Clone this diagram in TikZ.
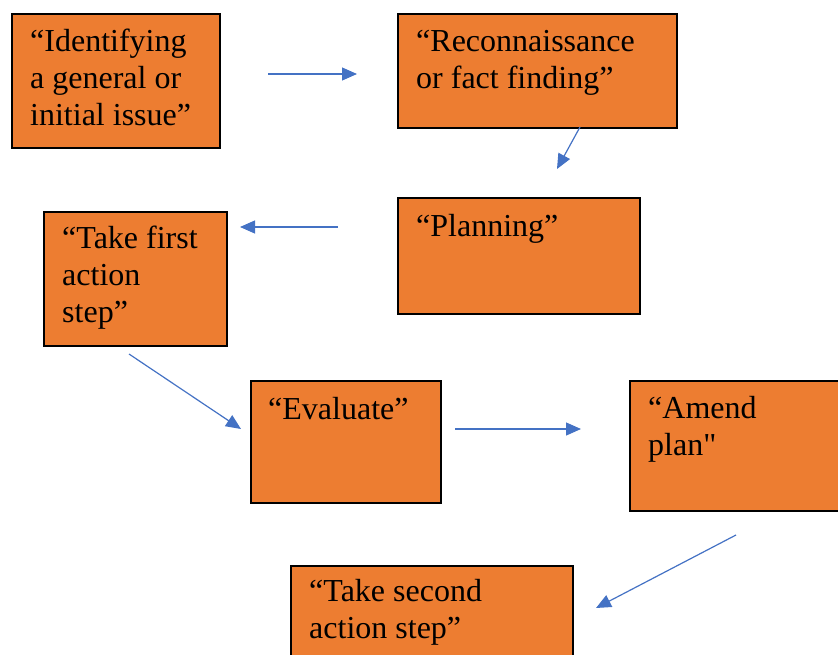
\documentclass[tikz,border=0pt]{standalone}
\usepackage{fontspec}
\setmainfont{Liberation Serif}[Ligatures=TeXOff]
\usetikzlibrary{arrows.meta}
\definecolor{boxOrange}{HTML}{ED7D31}
\definecolor{arrowBlue}{HTML}{4472C4}

\begin{document}
\begin{tikzpicture}[x=1pt, y=-1pt]
        \tikzstyle{stepBox} = [rectangle,draw=black,fill=boxOrange,
                line width=2pt, anchor=north west, inner sep=0pt]
        % text is placed by the baseline of its last line
        \tikzstyle{stepText} = [anchor=base west, align=left, inner sep=0pt,
                font=\fontsize{32}{37}\selectfont]
        \tikzstyle{blueArrow} = [draw=arrowBlue, line width=1.2pt,
                -{Triangle[length=15pt,width=13pt]}]
        \clip (0,0) rectangle (838,654);
        \node[stepBox, minimum width=208pt, minimum height=134pt] (issue) at (11,13) {};
        \node[stepBox, minimum width=279pt, minimum height=114pt] (recon) at (397,13) {};
        \node[stepBox, minimum width=242pt, minimum height=116pt] (plan) at (397,197) {};
        \node[stepBox, minimum width=183pt, minimum height=134pt] (first) at (43,211) {};
        \node[stepBox, minimum width=190pt, minimum height=122pt] (eval) at (250,380) {};
        \node[stepBox, minimum width=240pt, minimum height=130pt] (amend) at (629,380) {};
        \node[stepBox, minimum width=282pt, minimum height=120pt] (second) at (290,565) {};
        \node[stepText] (issueText) at ([shift={(19pt,-112pt)}]issue.north west)
                {“Identifying\\a general or\\initial issue”};
        \node[stepText] (reconText) at ([shift={(19pt,-75pt)}]recon.north west)
                {“Reconnaissance\\or fact finding”};
        \node[stepText] (planText) at ([shift={(19pt,-39pt)}]plan.north west)
                {“Planning”};
        \node[stepText] (firstText) at ([shift={(19pt,-111pt)}]first.north west)
                {“Take first\\action\\step”};
        \node[stepText] (evalText) at ([shift={(18pt,-39pt)}]eval.north west)
                {“Evaluate”};
        \node[stepText] (amendText) at ([shift={(19pt,-75pt)}]amend.north west)
                {“Amend\\plan"};
        \node[stepText] (secondText) at ([shift={(19pt,-73pt)}]second.north west)
                {“Take second\\action step”};
        \coordinate (fromIssue) at (268,74);
        \coordinate (toRecon) at (357,74);
        \coordinate (fromRecon) at (580,127);
        \coordinate (toPlan) at (557,169);
        \coordinate (fromPlan) at (338,227);
        \coordinate (toFirst) at (240,227);
        \coordinate (fromFirst) at (129,354);
        \coordinate (toEval) at (241,429);
        \coordinate (fromEval) at (455,429);
        \coordinate (toAmend) at (581,429);
        \coordinate (fromAmend) at (736,535);
        \coordinate (toSecond) at (596,608);
        \foreach \from/\to in {fromIssue/toRecon, fromRecon/toPlan, fromPlan/toFirst,
                                fromFirst/toEval, fromEval/toAmend, fromAmend/toSecond}
            \draw[blueArrow] (\from) -- (\to);
\end{tikzpicture}
\end{document}
